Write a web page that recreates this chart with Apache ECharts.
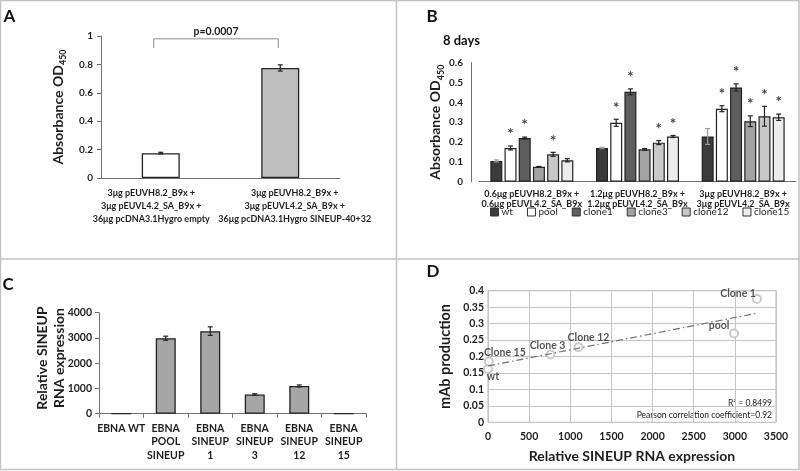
<!DOCTYPE html>
<html><head><meta charset="utf-8">
<script src="https://cdn.jsdelivr.net/npm/echarts@6/dist/echarts.min.js"></script>
<style>html,body{margin:0;padding:0;background:#fff}#c{width:800px;height:471px}</style>
</head><body><div id="c"></div>
<script>
// ---------- Panel A ----------
const aCategories = [
  '3μg pEUVH8.2_B9x +\n3μg pEUVL4.2_SA_B9x +\n36μg pcDNA3.1Hygro empty',
  '3μg pEUVH8.2_B9x +\n3μg pEUVL4.2_SA_B9x +\n36μg pcDNA3.1Hygro SINEUP-40+32'
];
const aValues = [0.175, 0.775];
const aErrors = [0.006, 0.022];
const aColors = ['#ffffff', '#bfbfbf'];
const aPValue = 'p=0.0007';

// ---------- Panel B ----------
const bCategories = [
  '0.6μg pEUVH8.2_B9x +\n0.6μg pEUVL4.2_SA_B9x',
  '1.2μg pEUVH8.2_B9x +\n1.2μg pEUVL4.2_SA_B9x',
  '3μg pEUVH8.2_B9x +\n3μg pEUVL4.2_SA_B9x'
];
const bNames = ['wt', 'pool', 'clone1', 'clone3', 'clone12', 'clone15'];
const bWt      = [0.105, 0.170, 0.228];
const bPool    = [0.170, 0.297, 0.368];
const bClone1  = [0.220, 0.453, 0.475];
const bClone3  = [0.075, 0.163, 0.305];
const bClone12 = [0.138, 0.197, 0.330];
const bClone15 = [0.108, 0.228, 0.325];
const bWtErr      = [0.005, 0.003, 0.040];
const bPoolErr    = [0.010, 0.018, 0.015];
const bClone1Err  = [0.005, 0.015, 0.018];
const bClone3Err  = [0.002, 0.004, 0.027];
const bClone12Err = [0.010, 0.010, 0.050];
const bClone15Err = [0.008, 0.005, 0.016];
const bWtStar      = [0, 0, 0];
const bPoolStar    = [1, 1, 1];
const bClone1Star  = [1, 1, 1];
const bClone3Star  = [0, 0, 1];
const bClone12Star = [1, 1, 1];
const bClone15Star = [0, 1, 1];
const bColors = ['#3b3b3b', '#ffffff', '#5e5e5e', '#a3a3a3', '#c8c8c8', '#ececec'];

// ---------- Panel C ----------
const cCategories = ['EBNA WT', 'EBNA\nPOOL\nSINEUP', 'EBNA\nSINEUP\n1', 'EBNA\nSINEUP\n3', 'EBNA\nSINEUP\n12', 'EBNA\nSINEUP\n15'];
const cValues = [0, 2990, 3270, 760, 1100, 0];
const cErrors = [0, 80, 170, 30, 40, 0];
const cYTitle = 'Relative SINEUP\nRNA expression';

// ---------- Panel D ----------
const dNames = ['wt', 'Clone 15', 'Clone 3', 'Clone 12', 'pool', 'Clone 1'];
const dX = [0, 10, 760, 1100, 2990, 3270];
const dY = [0.162, 0.185, 0.206, 0.228, 0.270, 0.375];
const dR2Text = 'R² = 0,8499';
const dPearsonText = 'Pearson correlation coefficient=0.92';

// ---------- build ----------
const FONT = 'Lato';
const TXT = '#1e1e1e';
const AXIS = '#707070';
const chart = echarts.init(document.getElementById('c'), null, {renderer: 'canvas'});

// linear regression for trendline (from data)
const n = dX.length;
const mx = dX.reduce((a, b) => a + b, 0) / n;
const my = dY.reduce((a, b) => a + b, 0) / n;
let sxy = 0, sxx = 0;
for (let i = 0; i < n; i++) { sxy += (dX[i] - mx) * (dY[i] - my); sxx += (dX[i] - mx) ** 2; }
const slope = sxy / sxx, icpt = my - slope * mx;
const xmin = Math.min(...dX), xmax = Math.max(...dX);
const trend = [[xmin, icpt + slope * xmin], [xmax, icpt + slope * xmax]];

const bSeriesVals = [bWt, bPool, bClone1, bClone3, bClone12, bClone15];
const bSeriesErr = [bWtErr, bPoolErr, bClone1Err, bClone3Err, bClone12Err, bClone15Err];
const bSeriesStar = [bWtStar, bPoolStar, bClone1Star, bClone3Star, bClone12Star, bClone15Star];
const B_BW = 12, B_GAP = 2.2;
const bErrData = [];
bSeriesVals.forEach((vals, si) => vals.forEach((v, ci) => bErrData.push([ci, v, bSeriesErr[si][ci], si, bSeriesStar[si][ci]])));

function errRenderer(barW, gap, nSer, colorFn) {
  return function (params, api) {
    const ci = api.value(0), v = api.value(1), e = api.value(2), si = api.value(3), star = api.value(4);
    const total = nSer * barW + (nSer - 1) * gap;
    const off = -total / 2 + barW / 2 + si * (barW + gap);
    const t = api.coord([ci, v + e]);
    const b = api.coord([ci, v - e]);
    const x = t[0] + off;
    const col = colorFn(si);
    const st = {stroke: col, lineWidth: 1.2};
    const ch = [
      {type: 'line', shape: {x1: x, y1: t[1], x2: x, y2: b[1]}, style: st},
      {type: 'line', shape: {x1: x - 2.5, y1: t[1], x2: x + 2.5, y2: t[1]}, style: st},
      {type: 'line', shape: {x1: x - 2.5, y1: b[1], x2: x + 2.5, y2: b[1]}, style: st}
    ];
    if (star) ch.push({type: 'text', style: {text: '*', x: x, y: t[1] - 4, align: 'center', verticalAlign: 'bottom', font: 'bold 15px ' + FONT, fill: '#444'}});
    return {type: 'group', children: ch};
  };
}

const plain = (v) => String(v);
const axisLabelBase = {color: TXT, fontFamily: FONT, fontWeight: 'bold', fontSize: 10};

const yName = (txt) => '{n|' + txt + '}{s|450}';
const yNameRich = {
  n: {fontSize: 14, fontWeight: 'bold', fontFamily: FONT, color: TXT, lineHeight: 20, verticalAlign: 'middle'},
  s: {fontSize: 9, fontWeight: 'bold', fontFamily: FONT, color: TXT, lineHeight: 9, verticalAlign: 'bottom'}
};

// per-category label shifts in panel A (labels sit slightly off the bar centres)
const aLabelPad = [[0, 19, 0, 0], [0, 0, 0, 29]];

const option = {
  animation: false,
  backgroundColor: '#fff',
  textStyle: {fontFamily: FONT},
  grid: [
    {left: 101, top: 36, width: 239, height: 142, containLabel: false, outerBoundsMode: 'none'},
    {left: 479, top: 62.7, width: 317, height: 119, containLabel: false, outerBoundsMode: 'none'},
    {left: 99, top: 312.7, width: 267, height: 101, containLabel: false, outerBoundsMode: 'none'},
    {left: 488, top: 290.7, width: 288, height: 131.6, containLabel: false, outerBoundsMode: 'none',
      show: true, borderColor: '#b4b4b4', borderWidth: 1}
  ],
  xAxis: [
    {gridIndex: 0, type: 'category',
      data: aCategories.map((c, i) => ({value: c, textStyle: {padding: aLabelPad[i]}})),
      axisLine: {lineStyle: {color: AXIS}}, axisTick: {show: false},
      axisLabel: Object.assign({}, axisLabelBase, {fontSize: 9, lineHeight: 13, margin: 9, interval: 0, hideOverlap: false})},
    {gridIndex: 1, type: 'category', data: bCategories,
      axisLine: {lineStyle: {color: AXIS}}, axisTick: {show: false},
      axisLabel: Object.assign({}, axisLabelBase, {fontSize: 9, lineHeight: 10.5, margin: 7, interval: 0})},
    {gridIndex: 2, type: 'category', data: cCategories,
      axisLine: {lineStyle: {color: AXIS}}, axisTick: {show: true, length: 4, lineStyle: {color: AXIS}},
      axisLabel: Object.assign({}, axisLabelBase, {fontSize: 10.5, lineHeight: 13.5, margin: 8, interval: 0})},
    {gridIndex: 3, type: 'value', min: 0, max: 3500, interval: 500,
      axisLine: {show: false}, axisTick: {show: false},
      splitLine: {show: true, lineStyle: {color: '#c4c4c4', width: 1}},
      axisLabel: Object.assign({}, axisLabelBase, {fontSize: 10.5, margin: 9, formatter: plain}),
      name: 'Relative SINEUP RNA expression', nameLocation: 'middle', nameGap: 27,
      nameTextStyle: {fontFamily: FONT, fontWeight: 'bold', fontSize: 14, color: TXT}}
  ],
  yAxis: [
    {gridIndex: 0, type: 'value', min: 0, max: 1, interval: 0.2,
      axisLine: {show: true, lineStyle: {color: AXIS}}, axisTick: {show: true, length: 4, lineStyle: {color: AXIS}},
      splitLine: {show: false}, axisLabel: Object.assign({}, axisLabelBase, {margin: 8, formatter: plain}),
      name: yName('Absorbance OD'), nameLocation: 'middle', nameGap: 33, nameRotate: 90,
      nameTextStyle: {rich: yNameRich}},
    {gridIndex: 1, type: 'value', min: 0, max: 0.6, interval: 0.1, offset: 8,
      axisLine: {show: true, lineStyle: {color: AXIS}}, axisTick: {show: false},
      splitLine: {show: false}, axisLabel: Object.assign({}, axisLabelBase, {margin: 8, formatter: plain}),
      name: yName('Absorbance OD'), nameLocation: 'middle', nameGap: 15, nameRotate: 90,
      nameTextStyle: {rich: yNameRich}},
    {gridIndex: 2, type: 'value', min: 0, max: 4000, interval: 1000,
      axisLine: {show: true, lineStyle: {color: AXIS}}, axisTick: {show: true, length: 4, lineStyle: {color: AXIS}},
      splitLine: {show: false}, axisLabel: Object.assign({}, axisLabelBase, {fontSize: 10.5, margin: 7, formatter: plain})},
    {gridIndex: 3, type: 'value', min: 0, max: 0.4, interval: 0.05,
      axisLine: {show: false}, axisTick: {show: false},
      splitLine: {show: true, lineStyle: {color: '#c4c4c4', width: 1}},
      axisLabel: Object.assign({}, axisLabelBase, {fontSize: 10.5, margin: 4, formatter: plain}),
      name: 'mAb production', nameLocation: 'middle', nameGap: 35, nameRotate: 90,
      nameTextStyle: {fontFamily: FONT, fontWeight: 'bold', fontSize: 14.5, color: TXT}}
  ],
  legend: {
    data: bNames, left: 490, top: 207, width: 305, itemWidth: 8, itemHeight: 8, itemGap: 14,
    icon: 'rect', padding: 0,
    itemStyle: {borderColor: '#333', borderWidth: 1},
    textStyle: {fontFamily: FONT, fontSize: 10, color: TXT, padding: [0, 0, 0, -2]}
  },
  series: [
    // Panel A
    {type: 'bar', xAxisIndex: 0, yAxisIndex: 0, barWidth: 38,
      data: aValues.map((v, i) => ({value: v, itemStyle: {color: aColors[i]}})),
      itemStyle: {borderColor: '#222', borderWidth: 1.3}},
    {type: 'custom', xAxisIndex: 0, yAxisIndex: 0, z: 5,
      data: aValues.map((v, i) => [i, v, aErrors[i], 0, 0]),
      renderItem: errRenderer(38, 0, 1, () => '#222')},
    {type: 'custom', xAxisIndex: 0, yAxisIndex: 0, z: 5,
      data: [[0, 1]],
      renderItem: function (params, api) {
        const p0 = api.coord([0, 0.98]);
        const p1 = api.coord([1, 0.98]);
        const lo = api.coord([0, 0.915]);
        const x0 = p0[0] - 7, x1 = p1[0] - 2;
        const st = {stroke: '#8a8a8a', lineWidth: 1, fill: null};
        return {type: 'group', children: [
          {type: 'polyline', shape: {points: [[x0, lo[1]], [x0, p0[1]], [x1, p0[1]], [x1, lo[1]]]}, style: st},
          {type: 'text', style: {text: aPValue, x: (x0 + x1) / 2, y: p0[1] - 2, align: 'center', verticalAlign: 'bottom',
            font: 'bold 10.5px ' + FONT, fill: TXT}}
        ]};
      }},
    // Panel B
    ...bNames.map((nm, si) => ({
      type: 'bar', name: nm, xAxisIndex: 1, yAxisIndex: 1, barWidth: B_BW, barGap: (B_GAP / B_BW * 100) + '%',
      data: bSeriesVals[si],
      itemStyle: {color: bColors[si], borderColor: '#222', borderWidth: 1.2}
    })),
    {type: 'custom', xAxisIndex: 1, yAxisIndex: 1, z: 5, data: bErrData,
      renderItem: errRenderer(B_BW, B_GAP, bNames.length, (si) => si === 0 ? '#9a9a9a' : '#222')},
    // Panel C
    {type: 'bar', xAxisIndex: 2, yAxisIndex: 2, barWidth: 20, data: cValues,
      itemStyle: {color: '#a6a6a6', borderColor: '#222', borderWidth: 1.3}},
    {type: 'custom', xAxisIndex: 2, yAxisIndex: 2, z: 5,
      data: cValues.map((v, i) => [i, v, cErrors[i], 0, 0]).filter(d => d[2] > 0),
      renderItem: errRenderer(20, 0, 1, () => '#222')},
    // Panel D
    {type: 'line', xAxisIndex: 3, yAxisIndex: 3, data: trend, symbol: 'none', silent: true,
      lineStyle: {color: '#707070', width: 1.2, type: [7, 3, 1.5, 3]}},
    {type: 'scatter', xAxisIndex: 3, yAxisIndex: 3, clip: false, symbol: 'emptyCircle', symbolSize: 8,
      itemStyle: {color: '#bdbdbd', borderColor: '#bdbdbd', borderWidth: 2},
      data: dX.map((x, i) => ({value: [x, dY[i]], name: dNames[i]})),
      label: {show: true, formatter: '{b}', position: 'inside', fontFamily: FONT, fontWeight: 'bold', fontSize: 10.5, color: '#2a2a2a'},
      labelLayout: function (p) {
        const offs = {'wt': [5, 8], 'Clone 15': [16, -9], 'Clone 3': [-3, -9], 'Clone 12': [10, -10], 'pool': [-15, -8], 'Clone 1': [-19, -5]};
        const o = offs[dNames[p.dataIndex]];
        return {x: p.rect.x + p.rect.width / 2 + o[0], y: p.rect.y + p.rect.height / 2 + o[1], align: 'center', verticalAlign: 'middle'};
      }}
  ],
  graphic: [
    {type: 'rect', shape: {x: 0.5, y: 0.5, width: 798.5, height: 469}, style: {fill: null, stroke: '#c2c2c2', lineWidth: 1.5}, silent: true},
    {type: 'line', shape: {x1: 396.5, y1: 0, x2: 396.5, y2: 470}, style: {stroke: '#c2c2c2', lineWidth: 1.5}, silent: true},
    {type: 'line', shape: {x1: 0, y1: 259, x2: 800, y2: 259}, style: {stroke: '#c2c2c2', lineWidth: 1.5}, silent: true},
    {type: 'text', x: 9.5, y: 17, style: {text: 'A', font: 'bold 17px ' + FONT, fill: '#111', align: 'center', verticalAlign: 'middle'}},
    {type: 'text', x: 432, y: 17, style: {text: 'B', font: 'bold 17px ' + FONT, fill: '#111', align: 'center', verticalAlign: 'middle'}},
    {type: 'text', x: 8, y: 285, style: {text: 'C', font: 'bold 17px ' + FONT, fill: '#111', align: 'center', verticalAlign: 'middle'}},
    {type: 'text', x: 433, y: 272, style: {text: 'D', font: 'bold 17px ' + FONT, fill: '#111', align: 'center', verticalAlign: 'middle'}},
    {type: 'text', x: 443, y: 41, style: {text: '8 days', font: 'bold 13px ' + FONT, fill: '#111', align: 'left', verticalAlign: 'middle'}},
    {type: 'text', x: 50.5, y: 358, rotation: Math.PI / 2,
      style: {text: cYTitle, font: 'bold 14px ' + FONT, lineHeight: 17, fill: TXT, align: 'center', verticalAlign: 'middle'}},
    {type: 'text', x: 772, y: 403, style: {text: dR2Text, font: '8.5px ' + FONT, fill: '#222', align: 'right', verticalAlign: 'middle'}},
    {type: 'text', x: 772, y: 415, style: {text: dPearsonText, font: '8.5px ' + FONT, fill: '#222', align: 'right', verticalAlign: 'middle'}}
  ]
};
chart.setOption(option);
</script></body></html>
